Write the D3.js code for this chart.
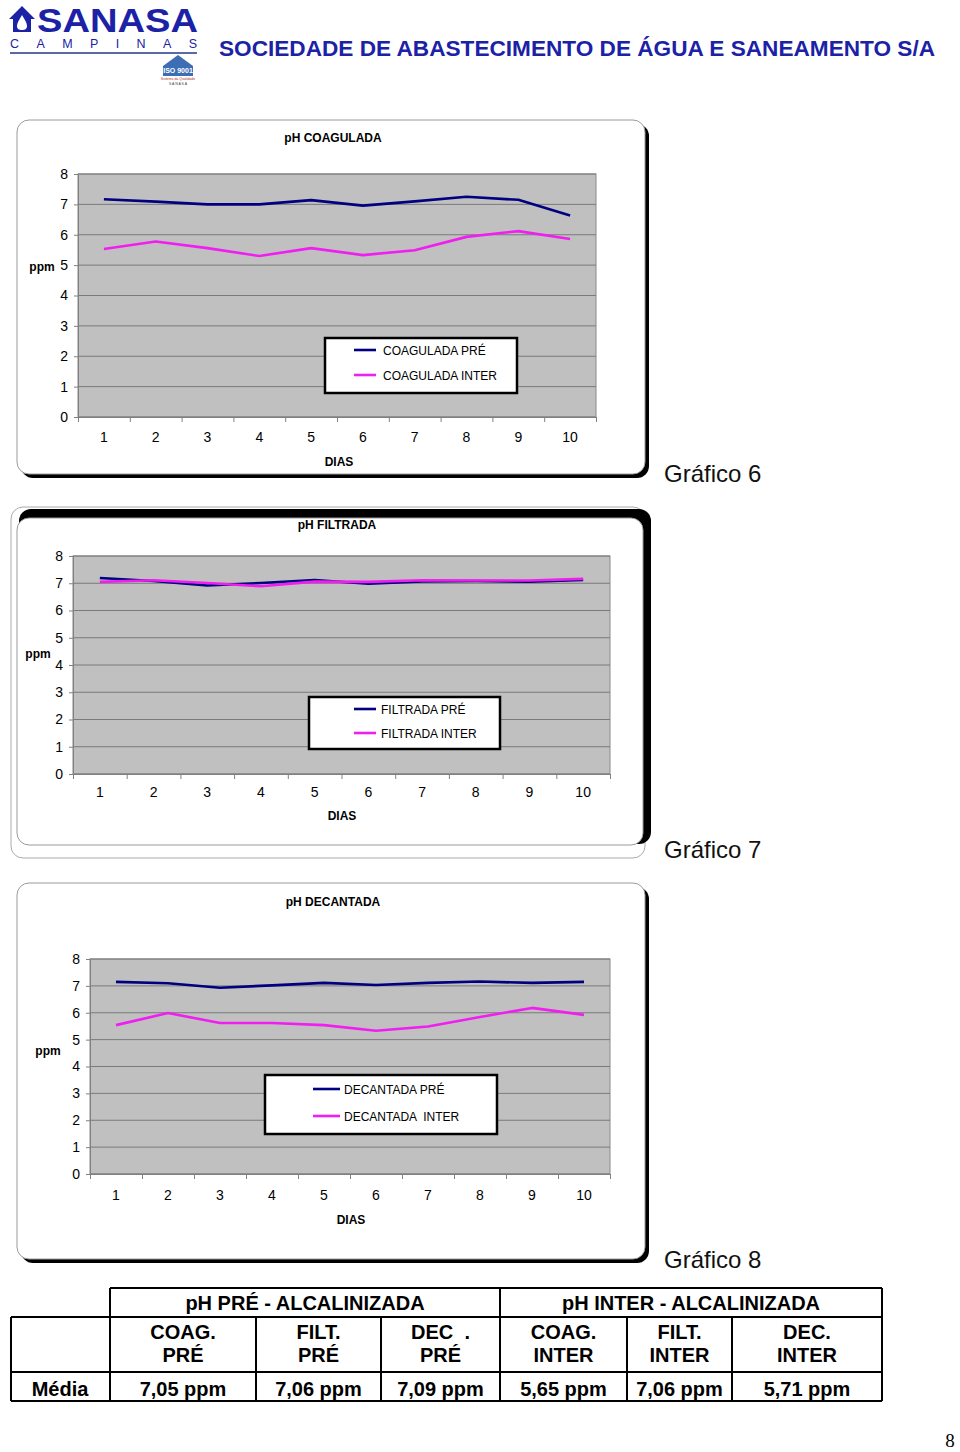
<!DOCTYPE html>
<html><head><meta charset="utf-8">
<script src="https://cdn.jsdelivr.net/npm/d3@7"></script>
<style>
html,body{margin:0;padding:0;background:#fff;}
svg{display:block;}
text{font-family:"Liberation Sans",Arial,sans-serif;}
.narrow{font-family:"Liberation Sans Narrow","Arial Narrow","Liberation Sans",sans-serif;}
</style></head>
<body>
<svg id="page" width="960" height="1452"></svg>
<script>
// ---------- DATA ----------
const days = [1,2,3,4,5,6,7,8,9,10];
const yTicks = [0,1,2,3,4,5,6,7,8];
const coagPre   = [7.17,7.09,7.00,7.00,7.14,6.96,7.10,7.25,7.15,6.63];
const coagInter = [5.53,5.78,5.56,5.30,5.56,5.33,5.49,5.93,6.12,5.86];
const filtPre   = [7.19,7.08,6.92,7.01,7.12,6.98,7.07,7.08,7.06,7.12];
const filtInter = [7.05,7.11,7.01,6.89,7.06,7.05,7.11,7.10,7.10,7.16];
const decPre    = [7.15,7.10,6.93,7.02,7.11,7.03,7.11,7.16,7.11,7.15];
const decInter  = [5.54,5.99,5.62,5.62,5.54,5.33,5.49,5.84,6.18,5.92];
const chartTitles = ["pH COAGULADA","pH FILTRADA","pH DECANTADA"];
const seriesNames = [["COAGULADA PRÉ","COAGULADA INTER"],["FILTRADA PRÉ","FILTRADA INTER"],["DECANTADA PRÉ","DECANTADA  INTER"]];
const graficoLabels = ["Gráfico 6","Gráfico 7","Gráfico 8"];
const tableGroups = ["pH PRÉ - ALCALINIZADA","pH INTER - ALCALINIZADA"];
const tableCols = [["COAG.","PRÉ"],["FILT.","PRÉ"],["DEC  .","PRÉ"],["COAG.","INTER"],["FILT.","INTER"],["DEC.","INTER"]];
const tableRowLabel = "Média";
const tableValues = ["7,05 ppm","7,06 ppm","7,09 ppm","5,65 ppm","7,06 ppm","5,71 ppm"];

const svg = d3.select("#page");
const BLUE = "#1c22a6";

// ---------- HEADER ----------
const hdr = svg.append("g");
hdr.append("path").attr("d","M9,19 L22,6 L35,19 L31,19 L31,32 L13,32 L13,19 Z").attr("fill",BLUE);
hdr.append("path").attr("d","M22,15 C19,20 17,23 17,26 C17,29 19,30 22,30 C25,30 27,29 27,26 C27,23 25,20 22,15 Z").attr("fill","#fff");
hdr.append("text").attr("x",37).attr("y",32).attr("font-size",33).attr("font-weight","bold")
  .attr("fill",BLUE).attr("textLength",161).attr("lengthAdjust","spacingAndGlyphs").text("SANASA");
hdr.append("text").attr("x",10).attr("y",48).attr("font-size",12.5)
  .attr("fill",BLUE).attr("textLength",187).attr("lengthAdjust","spacing").text("CAMPINAS");
hdr.append("line").attr("x1",10).attr("x2",197).attr("y1",53).attr("y2",53).attr("stroke","#5a6aa8").attr("stroke-width",2);
hdr.append("path").attr("d","M163,66 L178,55 L193,66 Z").attr("fill","#3d6db5");
hdr.append("rect").attr("x",163).attr("y",66).attr("width",30).attr("height",10).attr("fill","#3d6db5");
hdr.append("text").attr("x",178).attr("y",73).attr("font-size",7).attr("font-weight","bold").attr("text-anchor","middle")
  .attr("fill","#fff").text("ISO 9001");
hdr.append("text").attr("x",178).attr("y",80).attr("font-size",3.5).attr("text-anchor","middle").attr("fill","#b03030").text("Sistema da Qualidade");
hdr.append("text").attr("x",178).attr("y",85).attr("font-size",3.5).attr("text-anchor","middle").attr("fill","#444").text("S A N A S A");
hdr.append("text").attr("class","narrow").attr("x",219).attr("y",56).attr("font-size",22).attr("font-weight","bold")
  .attr("fill",BLUE).attr("textLength",716).attr("lengthAdjust","spacingAndGlyphs")
  .text("SOCIEDADE DE ABASTECIMENTO DE ÁGUA E SANEAMENTO S/A");

// ---------- CHARTS ----------
const charts = [
  {pre:coagPre, inter:coagInter, box:[17,120,628,354], plot:[78,596,174,417], title:[333,138], ppm:[42,267], dias:[339,462],
   legend:[325,338,192,55], lg:[350,375], lgx:[354,376,383], graf:[664,482], style:"shadow", xlab:21},
  {pre:filtPre, inter:filtInter, box:[17,518,626,327], plot:[73,610,556,774], title:[337,525], ppm:[38,654], dias:[342,816],
   legend:[309,697,191,52], lg:[709,733], lgx:[354,376,381], graf:[664,858], style:"frame", xlab:19},
  {pre:decPre, inter:decInter, box:[17,883,628,376], plot:[90,610,959,1174], title:[333,902], ppm:[48,1051], dias:[351,1220],
   legend:[265,1075,232,59], lg:[1089,1116], lgx:[313,340,344], graf:[664,1268], style:"shadow", xlab:22}
];

charts.forEach((c,i)=>{
  const g = svg.append("g");
  const [bx,by,bw,bh] = c.box;
  if(c.style==="shadow"){
    g.append("rect").attr("x",bx+4).attr("y",by+4).attr("width",bw).attr("height",bh).attr("rx",12).attr("fill","#000");
    g.append("rect").attr("x",bx).attr("y",by).attr("width",bw).attr("height",bh).attr("rx",12)
      .attr("fill","#fff").attr("stroke","#9a9a9a").attr("stroke-width",1);
  } else {
    g.append("rect").attr("x",11).attr("y",507).attr("width",634).attr("height",351).attr("rx",12)
      .attr("fill","#fff").attr("stroke","#aaa").attr("stroke-width",1);
    g.append("rect").attr("x",19).attr("y",509).attr("width",632).attr("height",335).attr("rx",12).attr("fill","#000");
    g.append("rect").attr("x",bx).attr("y",by).attr("width",bw).attr("height",bh).attr("rx",12)
      .attr("fill","#fff").attr("stroke","#9a9a9a").attr("stroke-width",1);
  }
  const [x0,x1,y0,y1] = c.plot;
  const x = d3.scaleBand().domain(days).range([x0,x1]).padding(0);
  const xb = d3.scaleLinear().domain([0,days.length]).range([x0,x1]);
  const y = d3.scaleLinear().domain([0,8]).range([y1,y0]);
  g.append("rect").attr("x",x0).attr("y",y0).attr("width",x1-x0).attr("height",y1-y0).attr("fill","#c0c0c0")
    .attr("stroke","#8a8a8a").attr("stroke-width",1);
  g.append("g").selectAll("line").data(yTicks).join("line")
    .attr("x1",x0).attr("x2",x1).attr("y1",d=>y(d)).attr("y2",d=>y(d)).attr("stroke","#7a7a7a").attr("stroke-width",1);
  const ya = g.append("g").attr("transform",`translate(${x0},0)`).call(d3.axisLeft(y).tickValues(yTicks).tickSize(4).tickPadding(6).tickFormat(d3.format("d")));
  ya.select(".domain").attr("stroke","#808080");
  ya.selectAll(".tick line").attr("stroke","#808080");
  ya.selectAll("text").attr("font-size",14).attr("font-family","Liberation Sans, Arial, sans-serif").attr("fill","#000");
  const xa = g.append("g").attr("transform",`translate(0,${y1})`).call(d3.axisBottom(xb).tickValues(d3.range(days.length+1)).tickSize(5).tickFormat(""));
  xa.select(".domain").attr("stroke","#808080");
  xa.selectAll(".tick line").attr("stroke","#808080");
  const xl = g.append("g").attr("transform",`translate(0,${y1})`).call(d3.axisBottom(x).tickSize(0).tickPadding(c.xlab-6));
  xl.select(".domain").remove();
  xl.selectAll("text").attr("font-size",14).attr("font-family","Liberation Sans, Arial, sans-serif").attr("fill","#000");
  const line = d3.line().x((d,k)=>x(days[k])+x.bandwidth()/2).y(d=>y(d));
  g.append("path").datum(c.pre).attr("d",line).attr("fill","none").attr("stroke","#000080").attr("stroke-width",2.6).attr("stroke-linejoin","round");
  g.append("path").datum(c.inter).attr("d",line).attr("fill","none").attr("stroke","#f01ef0").attr("stroke-width",2.6).attr("stroke-linejoin","round");
  g.append("text").attr("x",c.title[0]).attr("y",c.title[1]+4).attr("text-anchor","middle").attr("font-size",12).attr("font-weight","bold").text(chartTitles[i]);
  g.append("text").attr("x",c.ppm[0]).attr("y",c.ppm[1]+4).attr("text-anchor","middle").attr("font-size",12).attr("font-weight","bold").text("ppm");
  g.append("text").attr("x",c.dias[0]).attr("y",c.dias[1]+4).attr("text-anchor","middle").attr("font-size",12).attr("font-weight","bold").text("DIAS");
  const [lx,ly,lw,lh] = c.legend;
  g.append("rect").attr("x",lx).attr("y",ly).attr("width",lw).attr("height",lh).attr("fill","#fff").attr("stroke","#000").attr("stroke-width",2.5);
  [c.pre,c.inter].forEach((s,k)=>{
    g.append("line").attr("x1",c.lgx[0]).attr("x2",c.lgx[1]).attr("y1",c.lg[k]).attr("y2",c.lg[k])
      .attr("stroke",k===0?"#000080":"#f01ef0").attr("stroke-width",2.6);
    g.append("text").attr("x",c.lgx[2]).attr("y",c.lg[k]+4.5).attr("font-size",12).attr("xml:space","preserve").style("white-space","pre").text(seriesNames[i][k]);
  });
  svg.append("text").attr("x",c.graf[0]).attr("y",c.graf[1]).attr("font-size",24).attr("fill","#111").text(graficoLabels[i]);
});

// ---------- TABLE ----------
const colX = [110,256,381,500,627,732,882];
const rowY = [1288,1317,1372,1401];
const tg = svg.append("g");
const L = (a,b,c2,d)=>tg.append("line").attr("x1",a).attr("y1",b).attr("x2",c2).attr("y2",d).attr("stroke","#000").attr("stroke-width",2);
L(110,rowY[0],882,rowY[0]);
L(11,rowY[1],882,rowY[1]);
L(11,rowY[2],882,rowY[2]);
L(11,rowY[3],882,rowY[3]);
L(11,rowY[1],11,rowY[3]);
L(110,rowY[0],110,rowY[3]);
L(500,rowY[0],500,rowY[3]);
L(882,rowY[0],882,rowY[3]);
[256,381,627,732].forEach(cx=>L(cx,rowY[1],cx,rowY[3]));
const T = (tx,ty,s)=>tg.append("text").attr("class","narrow").attr("x",tx).attr("y",ty).attr("text-anchor","middle")
  .attr("font-size",20).attr("font-weight","bold").attr("xml:space","preserve").style("white-space","pre").text(s);
T(305,1310,tableGroups[0]);
T(691,1310,tableGroups[1]);
tableCols.forEach((cl,k)=>{
  const cx=(colX[k]+colX[k+1])/2;
  T(cx,1339,cl[0]); T(cx,1362,cl[1]);
  T(cx,1396,tableValues[k]);
});
T(60,1396,tableRowLabel);

svg.append("text").attr("x",950).attr("y",1447).attr("text-anchor","middle").attr("font-size",19)
  .style("font-family","Liberation Serif, serif").text("8");
</script>
</body></html>
